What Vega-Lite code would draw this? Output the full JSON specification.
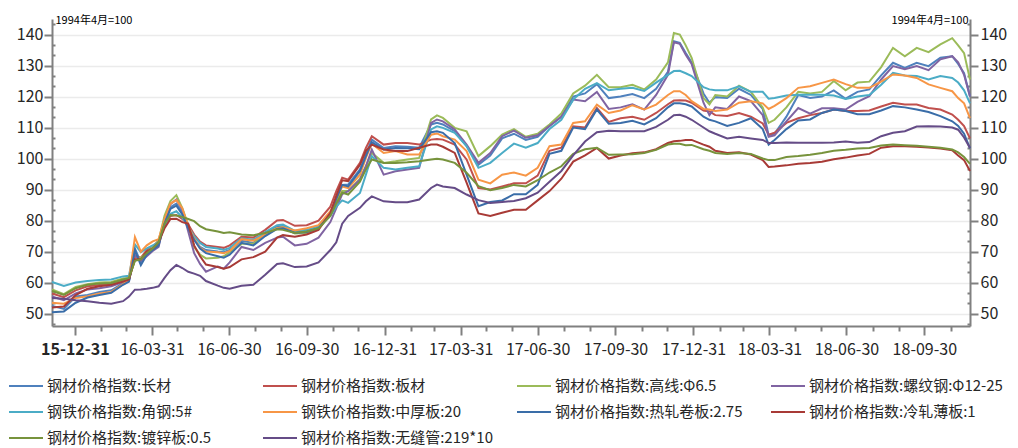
{
"$schema": "https://vega.github.io/schema/vega-lite/v6.json",
"width": 918, "height": 307,
"autosize": {"type": "none"},
"padding": {"left": 52, "top": 19, "right": 48, "bottom": 122},
"background": "white",
"config": {"font": "Noto Sans CJK SC", "view": {"stroke": null}},
"data": {"values": [
{"date":"2015-12-04","cc":52.5,"bc":56.5,"gx":57.8,"lwg":55.5,"jg":60.2,"zhb":53.5,"rzjb":50.4,"lzbb":52.0,"dxb":57.3,"wfg":55.0},
{"date":"2015-12-18","cc":51.5,"bc":55.3,"gx":56.3,"lwg":54.3,"jg":58.9,"zhb":53.2,"rzjb":50.7,"lzbb":52.3,"dxb":56.0,"wfg":54.8},
{"date":"2016-01-01","cc":55.5,"bc":57.5,"gx":58.6,"lwg":56.5,"jg":60.0,"zhb":55.0,"rzjb":53.5,"lzbb":56.0,"dxb":58.2,"wfg":54.3},
{"date":"2016-01-15","cc":56.0,"bc":58.8,"gx":59.5,"lwg":57.8,"jg":60.5,"zhb":55.6,"rzjb":55.2,"lzbb":58.0,"dxb":59.3,"wfg":54.0},
{"date":"2016-01-29","cc":57.0,"bc":59.2,"gx":60.0,"lwg":58.2,"jg":60.8,"zhb":56.5,"rzjb":56.0,"lzbb":58.8,"dxb":59.7,"wfg":53.5},
{"date":"2016-02-12","cc":57.5,"bc":59.6,"gx":60.2,"lwg":58.8,"jg":61.0,"zhb":57.0,"rzjb":56.7,"lzbb":59.3,"dxb":59.9,"wfg":53.2},
{"date":"2016-02-26","cc":59.8,"bc":60.6,"gx":61.3,"lwg":60.2,"jg":62.0,"zhb":59.5,"rzjb":59.3,"lzbb":60.3,"dxb":61.0,"wfg":54.0},
{"date":"2016-03-04","cc":60.5,"bc":61.0,"gx":61.5,"lwg":60.8,"jg":62.2,"zhb":61.0,"rzjb":60.3,"lzbb":61.0,"dxb":61.5,"wfg":55.5},
{"date":"2016-03-11","cc":71.0,"bc":68.5,"gx":67.2,"lwg":69.0,"jg":72.3,"zhb":74.7,"rzjb":70.5,"lzbb":67.5,"dxb":67.0,"wfg":57.7},
{"date":"2016-03-18","cc":66.5,"bc":68.0,"gx":68.0,"lwg":67.0,"jg":69.8,"zhb":70.0,"rzjb":65.6,"lzbb":67.5,"dxb":67.5,"wfg":57.8},
{"date":"2016-03-25","cc":69.5,"bc":70.5,"gx":69.8,"lwg":68.5,"jg":71.0,"zhb":72.0,"rzjb":69.0,"lzbb":70.0,"dxb":69.5,"wfg":58.0},
{"date":"2016-04-01","cc":71.0,"bc":71.5,"gx":71.5,"lwg":70.2,"jg":72.0,"zhb":73.3,"rzjb":70.5,"lzbb":71.0,"dxb":71.0,"wfg":58.3},
{"date":"2016-04-08","cc":72.5,"bc":73.5,"gx":73.5,"lwg":71.5,"jg":73.0,"zhb":74.0,"rzjb":72.0,"lzbb":73.0,"dxb":73.0,"wfg":58.8},
{"date":"2016-04-15","cc":79.5,"bc":78.5,"gx":81.5,"lwg":80.0,"jg":78.5,"zhb":80.5,"rzjb":79.0,"lzbb":77.5,"dxb":79.0,"wfg":61.5},
{"date":"2016-04-22","cc":84.3,"bc":81.5,"gx":86.3,"lwg":85.3,"jg":82.2,"zhb":85.5,"rzjb":83.8,"lzbb":80.5,"dxb":81.8,"wfg":64.0},
{"date":"2016-04-29","cc":85.5,"bc":81.8,"gx":88.2,"lwg":86.8,"jg":83.0,"zhb":86.6,"rzjb":84.8,"lzbb":80.6,"dxb":81.6,"wfg":65.7},
{"date":"2016-05-06","cc":82.5,"bc":80.5,"gx":84.0,"lwg":83.5,"jg":81.0,"zhb":84.0,"rzjb":82.0,"lzbb":79.5,"dxb":81.2,"wfg":64.7},
{"date":"2016-05-13","cc":78.0,"bc":78.8,"gx":78.5,"lwg":76.5,"jg":78.0,"zhb":78.3,"rzjb":77.5,"lzbb":79.0,"dxb":80.5,"wfg":63.5},
{"date":"2016-05-20","cc":74.0,"bc":75.5,"gx":71.5,"lwg":69.5,"jg":75.0,"zhb":74.2,"rzjb":73.8,"lzbb":72.0,"dxb":79.8,"wfg":62.9},
{"date":"2016-05-27","cc":71.5,"bc":73.2,"gx":69.0,"lwg":66.0,"jg":72.8,"zhb":71.2,"rzjb":71.0,"lzbb":68.5,"dxb":78.2,"wfg":62.2},
{"date":"2016-06-03","cc":70.5,"bc":72.0,"gx":67.8,"lwg":63.5,"jg":71.5,"zhb":70.0,"rzjb":69.5,"lzbb":65.8,"dxb":77.2,"wfg":60.5},
{"date":"2016-06-17","cc":70.0,"bc":71.5,"gx":68.0,"lwg":65.2,"jg":71.0,"zhb":69.8,"rzjb":68.5,"lzbb":65.0,"dxb":76.5,"wfg":59.0},
{"date":"2016-06-24","cc":69.8,"bc":71.2,"gx":68.5,"lwg":64.5,"jg":70.5,"zhb":69.5,"rzjb":68.0,"lzbb":64.5,"dxb":76.0,"wfg":58.3},
{"date":"2016-07-01","cc":70.5,"bc":72.0,"gx":69.8,"lwg":66.5,"jg":71.2,"zhb":70.2,"rzjb":69.0,"lzbb":65.0,"dxb":76.2,"wfg":58.0},
{"date":"2016-07-15","cc":73.5,"bc":74.8,"gx":72.5,"lwg":71.5,"jg":74.3,"zhb":74.0,"rzjb":72.8,"lzbb":67.5,"dxb":75.5,"wfg":59.0},
{"date":"2016-07-29","cc":72.8,"bc":74.5,"gx":72.5,"lwg":70.5,"jg":73.8,"zhb":73.5,"rzjb":72.0,"lzbb":68.2,"dxb":75.3,"wfg":59.3},
{"date":"2016-08-12","cc":76.0,"bc":77.0,"gx":75.8,"lwg":72.8,"jg":76.3,"zhb":75.5,"rzjb":75.0,"lzbb":70.0,"dxb":76.0,"wfg":62.5},
{"date":"2016-08-26","cc":78.0,"bc":80.0,"gx":77.5,"lwg":74.5,"jg":78.5,"zhb":77.5,"rzjb":77.3,"lzbb":74.5,"dxb":77.2,"wfg":66.0},
{"date":"2016-09-02","cc":78.2,"bc":80.2,"gx":77.8,"lwg":74.8,"jg":78.7,"zhb":77.8,"rzjb":77.5,"lzbb":75.3,"dxb":77.0,"wfg":66.2},
{"date":"2016-09-16","cc":76.5,"bc":78.3,"gx":75.8,"lwg":72.0,"jg":76.7,"zhb":76.8,"rzjb":76.0,"lzbb":74.8,"dxb":76.0,"wfg":65.0},
{"date":"2016-09-30","cc":76.8,"bc":78.5,"gx":76.0,"lwg":72.5,"jg":77.0,"zhb":77.5,"rzjb":76.3,"lzbb":75.5,"dxb":76.5,"wfg":65.2},
{"date":"2016-10-14","cc":78.0,"bc":80.0,"gx":77.5,"lwg":74.5,"jg":78.0,"zhb":78.5,"rzjb":77.5,"lzbb":77.0,"dxb":77.5,"wfg":66.5},
{"date":"2016-10-28","cc":82.5,"bc":84.5,"gx":82.0,"lwg":79.5,"jg":81.5,"zhb":83.0,"rzjb":82.0,"lzbb":82.5,"dxb":81.5,"wfg":70.5},
{"date":"2016-11-04","cc":86.5,"bc":89.5,"gx":86.5,"lwg":84.0,"jg":84.5,"zhb":87.0,"rzjb":87.0,"lzbb":88.0,"dxb":85.5,"wfg":73.0},
{"date":"2016-11-11","cc":91.5,"bc":93.8,"gx":89.5,"lwg":88.5,"jg":86.5,"zhb":91.0,"rzjb":91.5,"lzbb":93.0,"dxb":89.0,"wfg":79.0},
{"date":"2016-11-18","cc":91.6,"bc":93.2,"gx":89.5,"lwg":89.5,"jg":85.7,"zhb":90.5,"rzjb":91.0,"lzbb":92.7,"dxb":88.4,"wfg":81.5},
{"date":"2016-12-02","cc":96.5,"bc":98.6,"gx":93.5,"lwg":93.2,"jg":88.9,"zhb":94.8,"rzjb":96.0,"lzbb":98.0,"dxb":92.5,"wfg":84.1},
{"date":"2016-12-09","cc":101.3,"bc":103.4,"gx":97.5,"lwg":97.5,"jg":94.8,"zhb":100.2,"rzjb":100.8,"lzbb":102.5,"dxb":96.5,"wfg":86.2},
{"date":"2016-12-16","cc":106.1,"bc":107.2,"gx":101.8,"lwg":102.9,"jg":100.8,"zhb":104.8,"rzjb":105.3,"lzbb":104.5,"dxb":99.7,"wfg":87.8},
{"date":"2016-12-30","cc":103.4,"bc":104.5,"gx":98.6,"lwg":94.8,"jg":97.0,"zhb":101.8,"rzjb":102.9,"lzbb":102.9,"dxb":98.6,"wfg":86.2},
{"date":"2017-01-13","cc":104.0,"bc":105.0,"gx":99.1,"lwg":95.9,"jg":96.5,"zhb":102.4,"rzjb":103.4,"lzbb":102.4,"dxb":98.6,"wfg":85.9},
{"date":"2017-01-27","cc":103.8,"bc":105.0,"gx":99.7,"lwg":96.5,"jg":97.0,"zhb":101.3,"rzjb":103.3,"lzbb":102.4,"dxb":98.8,"wfg":85.9},
{"date":"2017-02-10","cc":103.5,"bc":104.5,"gx":100.2,"lwg":97.0,"jg":97.5,"zhb":101.3,"rzjb":103.0,"lzbb":103.5,"dxb":99.1,"wfg":86.8},
{"date":"2017-02-24","cc":111.0,"bc":106.1,"gx":112.6,"lwg":111.5,"jg":109.4,"zhb":107.7,"rzjb":108.5,"lzbb":104.5,"dxb":99.7,"wfg":90.5},
{"date":"2017-03-03","cc":111.5,"bc":106.3,"gx":113.9,"lwg":112.6,"jg":110.4,"zhb":108.1,"rzjb":108.8,"lzbb":104.5,"dxb":99.9,"wfg":91.6},
{"date":"2017-03-10","cc":111.0,"bc":106.1,"gx":113.1,"lwg":112.0,"jg":109.9,"zhb":107.2,"rzjb":108.3,"lzbb":103.8,"dxb":99.7,"wfg":91.0},
{"date":"2017-03-24","cc":108.8,"bc":104.5,"gx":109.9,"lwg":109.4,"jg":108.3,"zhb":106.1,"rzjb":105.0,"lzbb":101.8,"dxb":98.6,"wfg":90.5},
{"date":"2017-04-07","cc":104.0,"bc":99.7,"gx":108.8,"lwg":104.5,"jg":104.0,"zhb":102.4,"rzjb":94.8,"lzbb":92.2,"dxb":95.4,"wfg":88.4},
{"date":"2017-04-21","cc":98.0,"bc":90.5,"gx":100.8,"lwg":98.6,"jg":97.0,"zhb":93.2,"rzjb":84.6,"lzbb":82.3,"dxb":91.1,"wfg":86.6},
{"date":"2017-05-05","cc":101.0,"bc":90.0,"gx":104.0,"lwg":101.8,"jg":98.6,"zhb":92.0,"rzjb":86.0,"lzbb":81.5,"dxb":89.8,"wfg":85.7},
{"date":"2017-05-19","cc":106.5,"bc":91.0,"gx":107.7,"lwg":107.2,"jg":101.8,"zhb":94.8,"rzjb":86.5,"lzbb":82.5,"dxb":90.5,"wfg":86.0},
{"date":"2017-06-02","cc":108.0,"bc":92.0,"gx":109.5,"lwg":109.0,"jg":104.8,"zhb":95.5,"rzjb":88.5,"lzbb":83.5,"dxb":91.5,"wfg":86.3},
{"date":"2017-06-16","cc":106.0,"bc":92.0,"gx":107.0,"lwg":106.7,"jg":103.5,"zhb":94.5,"rzjb":88.5,"lzbb":83.5,"dxb":91.0,"wfg":87.2},
{"date":"2017-06-30","cc":107.0,"bc":94.5,"gx":108.0,"lwg":107.5,"jg":105.0,"zhb":97.0,"rzjb":91.5,"lzbb":86.5,"dxb":93.0,"wfg":89.0},
{"date":"2017-07-14","cc":110.5,"bc":102.5,"gx":111.0,"lwg":110.5,"jg":109.5,"zhb":104.0,"rzjb":101.5,"lzbb":89.5,"dxb":95.5,"wfg":92.5},
{"date":"2017-07-28","cc":113.5,"bc":103.5,"gx":114.5,"lwg":113.5,"jg":112.5,"zhb":104.5,"rzjb":102.5,"lzbb":93.5,"dxb":97.5,"wfg":96.0},
{"date":"2017-08-11","cc":120.0,"bc":110.4,"gx":121.0,"lwg":119.0,"jg":119.0,"zhb":111.5,"rzjb":110.0,"lzbb":99.0,"dxb":101.5,"wfg":101.0},
{"date":"2017-08-25","cc":121.0,"bc":110.0,"gx":123.5,"lwg":118.5,"jg":122.5,"zhb":112.0,"rzjb":109.5,"lzbb":101.0,"dxb":103.0,"wfg":105.5},
{"date":"2017-09-08","cc":124.0,"bc":116.3,"gx":127.0,"lwg":121.5,"jg":124.3,"zhb":117.4,"rzjb":115.8,"lzbb":103.4,"dxb":103.5,"wfg":108.5},
{"date":"2017-09-22","cc":119.5,"bc":111.8,"gx":123.0,"lwg":116.0,"jg":122.0,"zhb":114.7,"rzjb":111.2,"lzbb":100.0,"dxb":101.2,"wfg":109.0},
{"date":"2017-10-06","cc":120.0,"bc":113.0,"gx":123.0,"lwg":116.5,"jg":122.5,"zhb":115.5,"rzjb":111.5,"lzbb":101.0,"dxb":101.3,"wfg":108.8},
{"date":"2017-10-20","cc":120.8,"bc":113.5,"gx":123.8,"lwg":117.5,"jg":122.8,"zhb":117.2,"rzjb":112.2,"lzbb":101.7,"dxb":101.4,"wfg":108.8},
{"date":"2017-11-03","cc":119.5,"bc":112.5,"gx":122.3,"lwg":115.8,"jg":121.8,"zhb":115.8,"rzjb":111.0,"lzbb":102.0,"dxb":101.8,"wfg":108.8},
{"date":"2017-11-17","cc":122.5,"bc":114.7,"gx":125.5,"lwg":120.5,"jg":124.5,"zhb":117.4,"rzjb":113.0,"lzbb":103.0,"dxb":102.8,"wfg":110.2},
{"date":"2017-12-01","cc":128.0,"bc":117.5,"gx":131.0,"lwg":127.0,"jg":127.0,"zhb":120.5,"rzjb":116.5,"lzbb":105.0,"dxb":104.5,"wfg":112.5},
{"date":"2017-12-08","cc":137.8,"bc":118.7,"gx":140.5,"lwg":137.5,"jg":128.2,"zhb":121.7,"rzjb":117.8,"lzbb":105.6,"dxb":104.8,"wfg":114.0},
{"date":"2017-12-15","cc":137.3,"bc":118.8,"gx":140.0,"lwg":137.0,"jg":128.3,"zhb":121.7,"rzjb":117.8,"lzbb":105.7,"dxb":104.8,"wfg":114.1},
{"date":"2017-12-22","cc":134.0,"bc":118.7,"gx":136.5,"lwg":133.5,"jg":127.5,"zhb":120.5,"rzjb":117.5,"lzbb":106.0,"dxb":104.3,"wfg":113.5},
{"date":"2017-12-29","cc":131.0,"bc":118.0,"gx":132.5,"lwg":130.5,"jg":126.6,"zhb":118.5,"rzjb":116.8,"lzbb":106.0,"dxb":104.4,"wfg":112.5},
{"date":"2018-01-12","cc":121.0,"bc":115.5,"gx":119.5,"lwg":118.0,"jg":123.0,"zhb":116.0,"rzjb":113.5,"lzbb":104.5,"dxb":103.0,"wfg":110.0},
{"date":"2018-01-19","cc":118.0,"bc":115.2,"gx":117.5,"lwg":114.0,"jg":122.3,"zhb":115.8,"rzjb":112.5,"lzbb":103.8,"dxb":102.5,"wfg":108.8},
{"date":"2018-01-26","cc":119.8,"bc":114.0,"gx":120.5,"lwg":116.5,"jg":122.0,"zhb":115.3,"rzjb":112.0,"lzbb":102.5,"dxb":101.8,"wfg":108.0},
{"date":"2018-02-09","cc":119.5,"bc":113.7,"gx":120.0,"lwg":116.0,"jg":122.0,"zhb":115.8,"rzjb":110.5,"lzbb":101.8,"dxb":101.5,"wfg":106.5},
{"date":"2018-02-23","cc":122.5,"bc":114.7,"gx":123.5,"lwg":120.0,"jg":123.3,"zhb":118.0,"rzjb":111.5,"lzbb":102.0,"dxb":101.8,"wfg":107.0},
{"date":"2018-03-09","cc":120.5,"bc":113.5,"gx":121.5,"lwg":118.5,"jg":121.5,"zhb":118.5,"rzjb":113.0,"lzbb":101.3,"dxb":101.5,"wfg":106.5},
{"date":"2018-03-23","cc":116.0,"bc":111.3,"gx":116.5,"lwg":114.0,"jg":121.5,"zhb":117.8,"rzjb":109.5,"lzbb":99.5,"dxb":100.0,"wfg":106.0},
{"date":"2018-03-30","cc":107.5,"bc":107.7,"gx":111.5,"lwg":107.0,"jg":119.3,"zhb":116.0,"rzjb":104.5,"lzbb":97.3,"dxb":99.5,"wfg":105.0},
{"date":"2018-04-06","cc":108.0,"bc":108.3,"gx":112.5,"lwg":107.5,"jg":119.5,"zhb":117.0,"rzjb":106.0,"lzbb":97.4,"dxb":99.5,"wfg":105.0},
{"date":"2018-04-20","cc":113.5,"bc":111.5,"gx":116.5,"lwg":112.0,"jg":120.3,"zhb":119.5,"rzjb":109.5,"lzbb":97.8,"dxb":100.5,"wfg":105.2},
{"date":"2018-05-04","cc":120.5,"bc":113.0,"gx":121.5,"lwg":116.3,"jg":120.6,"zhb":122.8,"rzjb":112.3,"lzbb":98.3,"dxb":100.8,"wfg":105.1},
{"date":"2018-05-18","cc":119.5,"bc":114.0,"gx":121.0,"lwg":114.5,"jg":120.6,"zhb":123.3,"rzjb":112.6,"lzbb":98.6,"dxb":101.2,"wfg":105.1},
{"date":"2018-06-01","cc":120.0,"bc":114.7,"gx":121.5,"lwg":116.2,"jg":120.6,"zhb":124.4,"rzjb":114.7,"lzbb":99.0,"dxb":101.8,"wfg":105.1},
{"date":"2018-06-15","cc":122.0,"bc":115.8,"gx":125.0,"lwg":116.2,"jg":120.3,"zhb":125.5,"rzjb":115.8,"lzbb":99.8,"dxb":102.5,"wfg":105.2},
{"date":"2018-06-29","cc":119.3,"bc":115.3,"gx":122.0,"lwg":115.8,"jg":119.2,"zhb":124.0,"rzjb":115.3,"lzbb":100.3,"dxb":102.8,"wfg":105.5},
{"date":"2018-07-13","cc":121.5,"bc":115.3,"gx":124.5,"lwg":118.3,"jg":120.0,"zhb":122.8,"rzjb":114.3,"lzbb":101.0,"dxb":103.2,"wfg":105.1},
{"date":"2018-07-27","cc":122.3,"bc":115.5,"gx":124.8,"lwg":120.1,"jg":120.5,"zhb":122.8,"rzjb":114.3,"lzbb":101.5,"dxb":103.4,"wfg":105.3},
{"date":"2018-08-10","cc":126.8,"bc":116.8,"gx":129.5,"lwg":125.5,"jg":123.8,"zhb":124.8,"rzjb":115.5,"lzbb":103.5,"dxb":104.2,"wfg":107.2},
{"date":"2018-08-24","cc":130.9,"bc":118.0,"gx":135.7,"lwg":129.8,"jg":127.6,"zhb":127.1,"rzjb":116.9,"lzbb":104.0,"dxb":104.5,"wfg":108.3},
{"date":"2018-09-07","cc":129.2,"bc":117.4,"gx":133.0,"lwg":128.8,"jg":126.8,"zhb":126.8,"rzjb":116.5,"lzbb":104.0,"dxb":104.3,"wfg":108.8},
{"date":"2018-09-21","cc":130.9,"bc":117.4,"gx":135.7,"lwg":129.8,"jg":126.6,"zhb":126.0,"rzjb":115.8,"lzbb":103.8,"dxb":104.1,"wfg":110.3},
{"date":"2018-10-05","cc":129.8,"bc":116.3,"gx":134.3,"lwg":128.5,"jg":125.5,"zhb":123.9,"rzjb":115.0,"lzbb":103.6,"dxb":103.8,"wfg":110.4},
{"date":"2018-10-19","cc":132.5,"bc":115.8,"gx":136.8,"lwg":132.0,"jg":126.6,"zhb":122.8,"rzjb":113.7,"lzbb":103.2,"dxb":103.5,"wfg":110.3},
{"date":"2018-11-02","cc":133.0,"bc":114.2,"gx":138.8,"lwg":133.0,"jg":126.0,"zhb":121.7,"rzjb":112.0,"lzbb":102.7,"dxb":102.9,"wfg":110.0},
{"date":"2018-11-09","cc":130.5,"bc":112.5,"gx":136.5,"lwg":131.0,"jg":124.5,"zhb":119.5,"rzjb":110.5,"lzbb":101.0,"dxb":102.0,"wfg":109.3},
{"date":"2018-11-16","cc":127.5,"bc":110.5,"gx":134.0,"lwg":127.0,"jg":122.0,"zhb":117.8,"rzjb":108.0,"lzbb":99.5,"dxb":100.5,"wfg":106.8},
{"date":"2018-11-23","cc":120.0,"bc":106.5,"gx":125.5,"lwg":120.0,"jg":117.8,"zhb":113.0,"rzjb":103.3,"lzbb":96.0,"dxb":98.3,"wfg":103.4}
]},
"transform": [{"fold": ["cc","bc","gx","lwg","jg","zhb","rzjb","lzbb","dxb","wfg"], "as": ["series","value"]}],
"encoding": {
  "x": {"field": "date", "type": "temporal",
    "scale": {"type": "utc", "domain": [{"year":2015,"month":12,"date":4,"utc":true},{"year":2018,"month":11,"date":23,"utc":true}]},
    "axis": {
      "title": null, "grid": false,
      "values": [
        {"year":2015,"month":12,"date":31,"utc":true},
        {"year":2016,"month":1,"date":31,"utc":true},{"year":2016,"month":2,"date":29,"utc":true},{"year":2016,"month":3,"date":31,"utc":true},
        {"year":2016,"month":4,"date":30,"utc":true},{"year":2016,"month":5,"date":31,"utc":true},{"year":2016,"month":6,"date":30,"utc":true},
        {"year":2016,"month":7,"date":31,"utc":true},{"year":2016,"month":8,"date":31,"utc":true},{"year":2016,"month":9,"date":30,"utc":true},
        {"year":2016,"month":10,"date":31,"utc":true},{"year":2016,"month":11,"date":30,"utc":true},{"year":2016,"month":12,"date":31,"utc":true},
        {"year":2017,"month":1,"date":31,"utc":true},{"year":2017,"month":2,"date":28,"utc":true},{"year":2017,"month":3,"date":31,"utc":true},
        {"year":2017,"month":4,"date":30,"utc":true},{"year":2017,"month":5,"date":31,"utc":true},{"year":2017,"month":6,"date":30,"utc":true},
        {"year":2017,"month":7,"date":31,"utc":true},{"year":2017,"month":8,"date":31,"utc":true},{"year":2017,"month":9,"date":30,"utc":true},
        {"year":2017,"month":10,"date":31,"utc":true},{"year":2017,"month":11,"date":30,"utc":true},{"year":2017,"month":12,"date":31,"utc":true},
        {"year":2018,"month":1,"date":31,"utc":true},{"year":2018,"month":2,"date":28,"utc":true},{"year":2018,"month":3,"date":31,"utc":true},
        {"year":2018,"month":4,"date":30,"utc":true},{"year":2018,"month":5,"date":31,"utc":true},{"year":2018,"month":6,"date":30,"utc":true},
        {"year":2018,"month":7,"date":31,"utc":true},{"year":2018,"month":8,"date":31,"utc":true},{"year":2018,"month":9,"date":30,"utc":true},
        {"year":2018,"month":10,"date":31,"utc":true}
      ],
      "labelExpr": "utcmonth(datum.value) % 3 == 2 ? utcFormat(datum.value, '%y-%m-%d') : ''",
      "tickSize": {"condition": {"test": "utcmonth(datum.value) % 3 == 2", "value": 9}, "value": 5},
      "labelFontWeight": {"condition": {"test": "utcyear(datum.value) == 2015", "value": "bold"}, "value": "normal"},
      "labelFontSize": 16, "labelColor": "#262626", "labelPadding": 6,
      "labelOverlap": false, "labelFlush": false,
      "domainColor": "#808080", "domainWidth": 2, "tickColor": "#808080", "tickWidth": 2
    }
  }
},
"layer": [
  {
    "mark": {"type": "line", "strokeWidth": 2},
    "encoding": {
      "y": {"field": "value", "type": "quantitative",
        "scale": {"domain": [46, 145], "nice": false, "zero": false},
        "axis": {
          "orient": "left",
          "values": [46.67,50,53.33,56.67,60,63.33,66.67,70,73.33,76.67,80,83.33,86.67,90,93.33,96.67,100,103.33,106.67,110,113.33,116.67,120,123.33,126.67,130,133.33,136.67,140,143.33],
          "labelExpr": "datum.value % 10 == 0 ? format(datum.value, 'd') : ''",
          "tickSize": {"condition": {"test": "datum.value % 10 == 0", "value": 8}, "value": -3},
          "grid": true,
          "gridOpacity": {"condition": {"test": "datum.value % 10 == 0", "value": 1}, "value": 0},
          "gridColor": "#EBEBEB", "gridWidth": 1.5,
          "domainColor": "#808080", "domainWidth": 2, "tickColor": "#808080", "tickWidth": 2,
          "labelFontSize": 16, "labelColor": "#262626", "labelPadding": 1,
          "title": "1994年4月=100", "titleAngle": 0, "titleX": 3, "titleY": 1, "titleAlign": "left", "titleBaseline": "middle",
          "titleFontSize": 11, "titleFontWeight": "normal", "titleColor": "#000000"
        }
      },
      "color": {"field": "series", "type": "nominal",
        "scale": {
          "domain": ["cc","bc","gx","lwg","jg","zhb","rzjb","lzbb","dxb","wfg"],
          "range": ["#4F81BD","#C0504D","#9BBB59","#8064A2","#4BACC6","#F79646","#3A6DA8","#A83A36","#77933C","#654C87"]
        },
        "legend": {
          "orient": "none", "legendX": -44, "legendY": 349,
          "direction": "horizontal", "columns": 4, "gridAlign": "all",
          "title": null,
          "symbolType": "stroke", "symbolSize": 1156, "symbolStrokeWidth": 2,
          "labelFontSize": 15, "labelColor": "#262626", "labelOffset": 3, "labelLimit": 0,
          "columnPadding": 18, "rowPadding": -1,
          "labelExpr": "datum.value == 'cc' ? '钢材价格指数:长材' : datum.value == 'bc' ? '钢材价格指数:板材' : datum.value == 'gx' ? '钢材价格指数:高线:Φ6.5' : datum.value == 'lwg' ? '钢材价格指数:螺纹钢:Φ12-25' : datum.value == 'jg' ? '钢铁价格指数:角钢:5#' : datum.value == 'zhb' ? '钢铁价格指数:中厚板:20' : datum.value == 'rzjb' ? '钢材价格指数:热轧卷板:2.75' : datum.value == 'lzbb' ? '钢材价格指数:冷轧薄板:1' : datum.value == 'dxb' ? '钢材价格指数:镀锌板:0.5' : '钢材价格指数:无缝管:219*10'"
        }
      }
    }
  },
  {
    "mark": {"type": "line", "opacity": 0},
    "encoding": {
      "detail": {"field": "series", "type": "nominal"},
      "y": {"field": "value", "type": "quantitative",
        "scale": {"domain": [46, 145], "nice": false, "zero": false},
        "axis": {
          "orient": "right",
          "values": [46.67,50,53.33,56.67,60,63.33,66.67,70,73.33,76.67,80,83.33,86.67,90,93.33,96.67,100,103.33,106.67,110,113.33,116.67,120,123.33,126.67,130,133.33,136.67,140,143.33],
          "labelExpr": "datum.value % 10 == 0 ? format(datum.value, 'd') : ''",
          "tickSize": {"condition": {"test": "datum.value % 10 == 0", "value": 8}, "value": -3},
          "grid": false,
          "domainColor": "#808080", "domainWidth": 2, "tickColor": "#808080", "tickWidth": 2,
          "labelFontSize": 16, "labelColor": "#262626", "labelPadding": 2,
          "title": "1994年4月=100", "titleAngle": 0, "titleX": -2, "titleY": 1, "titleAlign": "right", "titleBaseline": "middle",
          "titleFontSize": 11, "titleFontWeight": "normal", "titleColor": "#000000"
        }
      }
    }
  }
],
"resolve": {"scale": {"y": "independent"}, "axis": {"y": "independent"}}
}
